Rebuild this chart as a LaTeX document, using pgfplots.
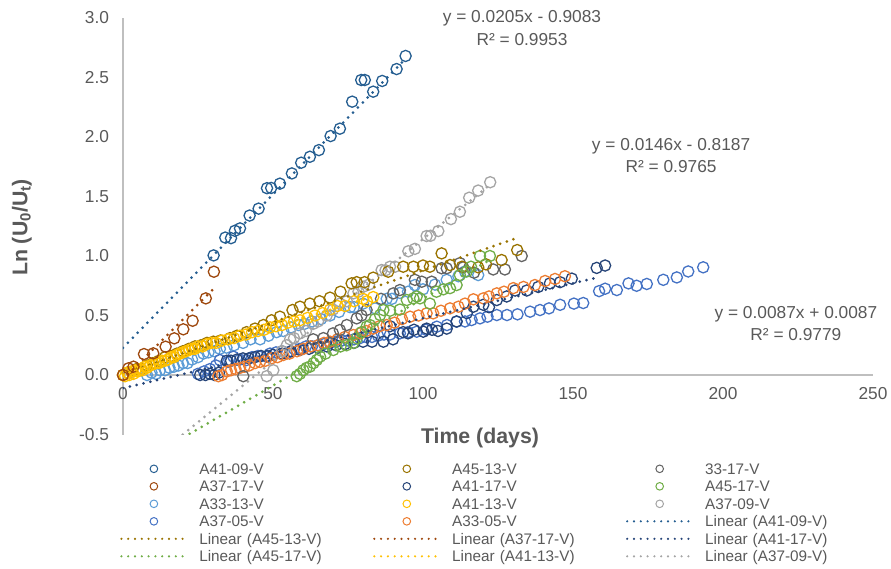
\documentclass[border=0pt]{standalone}
\usepackage{fontspec}
\setmainfont{Liberation Sans}
\usepackage{pgfplots}
\pgfplotsset{compat=1.18}
\definecolor{cA4109}{HTML}{255E91}
\definecolor{cA3717}{HTML}{9E480E}
\definecolor{cA3313}{HTML}{5B9BD5}
\definecolor{cA3705}{HTML}{4472C4}
\definecolor{cA4513}{HTML}{997300}
\definecolor{cA4117}{HTML}{264478}
\definecolor{cA4113}{HTML}{FFC000}
\definecolor{cA3305}{HTML}{ED7D31}
\definecolor{c3317}{HTML}{636363}
\definecolor{cA4517}{HTML}{70AD47}
\definecolor{cA3709}{HTML}{A5A5A5}
\definecolor{txtgray}{HTML}{595959}
\definecolor{axisgray}{HTML}{BFBFBF}
\pgfplotsset{
  trend/.style={line width=3pt, line cap=round, dash pattern=on 0pt off 7pt, forget plot},
  ser/.style={only marks, mark=o, mark size=5.6pt, line width=1.3pt, forget plot, mark options={solid, line width=1.3pt}},
}
\newcommand{\mkleg}[1]{\addlegendimage{legend image code/.code={\path (0pt,-4pt) (65pt,4pt); \draw[#1, line width=1pt] (32.5pt,0pt) circle[radius=3.8pt];}}}
\newcommand{\lnleg}[1]{\addlegendimage{legend image code/.code={\path (0pt,-4pt) (65pt,4pt); \draw[#1, line width=2.4pt, line cap=round, dash pattern=on 0pt off 6.8pt] (0pt,0pt) -- (65pt,0pt);}}}
\begin{document}
\begin{tikzpicture}
\begin{axis}[
  x=3pt, y=119pt,
  xmin=0, xmax=250, ymin=-0.5, ymax=3,
  enlargelimits=false,
  axis lines=middle,
  axis line style={-, draw=axisgray, line width=1.3pt},
  hide obscured x ticks=false, hide obscured y ticks=false,
  xtick={0,50,100,150,200,250},
  xticklabels={0,50,100,150,200,250},
  ytick={-0.5,0,0.5,1,1.5,2,2.5,3},
  yticklabels={-0.5,0.0,0.5,1.0,1.5,2.0,2.5,3.0},
  major tick length=0pt,
  tick label style={font=\fontsize{17.3}{20}\selectfont, text=txtgray},
  xticklabel style={yshift=-9pt},
  yticklabel style={xshift=-10.5pt},
  clip mode=individual,
  legend columns=3,
  legend cell align=left,
  legend style={
    at={(-0.004,-0.0609)}, anchor=north west,
    draw=none, fill=none,
    inner xsep=0pt, inner ysep=0pt,
    font=\fontsize{15.3}{17.5}\selectfont,
    nodes={inner sep=0pt, text height=14.25pt, text depth=3.25pt, text width=173.8pt, align=left, text=txtgray},
    row sep=0pt,
    /tikz/every odd column/.append style={column sep=11.7pt},
    /tikz/every even column/.append style={column sep=0pt},
  },
]
% ---- data series ----
\addplot[ser, color=cA3313] coordinates {
(8,0.0) (9.5,0.02) (11,0.01) (12.3,0.04) (14,0.04) (15.5,0.06) (17,0.07) (18.5,0.08) (20,0.1) (21.5,0.1) (23,0.13) (25,0.15) (26.8,0.18) (28.5,0.19) (30.5,0.2) (32.3,0.22) (34.5,0.23) (37,0.25) (40,0.27) (42.5,0.3) (45.7,0.3) (48.5,0.33) (51.2,0.36) (53.4,0.37) (56,0.4) (58.5,0.42) (60.5,0.43) (63,0.45) (66,0.47) (69,0.5) (72,0.53) (75.7,0.57) (77,0.57) (80,0.6) (84,0.56) (87.9,0.64) (89.6,0.64) (92.3,0.69) (95,0.7) (97.3,0.756) (100,0.72) (104,0.76) (107.9,0.8) (111.8,0.83) (114,0.87) (118.4,0.84)
};
\addplot[ser, color=cA3705] coordinates {
(25,0.01) (27,0.03) (29,0.05) (31,0.08) (32.3,0.126) (35,0.11) (36.8,0.154) (39,0.13) (41.2,0.126) (43,0.15) (45,0.16) (47.9,0.154) (49,0.18) (51,0.19) (53,0.2) (54.6,0.182) (57,0.22) (59,0.22) (61,0.24) (63,0.24) (65,0.25) (67,0.26) (69,0.27) (71,0.28) (73,0.29) (75,0.29) (77,0.3) (79,0.31) (81,0.32) (83,0.32) (85,0.33) (87,0.34) (89,0.34) (92.3,0.35) (95,0.36) (97.9,0.364) (101,0.38) (104.6,0.406) (108,0.42) (111.2,0.448) (114,0.45) (116.2,0.462) (119,0.476) (121.5,0.49) (124.6,0.504) (128,0.504) (131.5,0.51) (135.7,0.532) (139,0.546) (142,0.56) (145.7,0.59) (150.3,0.60) (153.4,0.605) (158.7,0.705) (160.7,0.725) (164.6,0.714) (168.5,0.77) (171.2,0.75) (174.6,0.765) (180.1,0.80) (184.6,0.82) (188.4,0.87) (193.4,0.905)
};
\addplot[ser, color=cA4117] coordinates {
(25.7,0.0) (27.5,0.0) (29,0.01) (30.5,0.0) (32,0.02) (34.6,0.12) (36,0.12) (38,0.13) (40,0.14) (42,0.14) (44,0.15) (46,0.16) (48,0.16) (50,0.17) (53,0.18) (56,0.2) (59,0.21) (62,0.22) (65,0.23) (68,0.24) (71,0.25) (74,0.26) (77,0.27) (80,0.28) (83,0.28) (86.8,0.28) (89,0.41) (90,0.3) (93.4,0.36) (95,0.35) (97,0.38) (100.1,0.364) (101.2,0.39) (103,0.38) (105,0.37) (107.9,0.39) (111.2,0.45) (114.6,0.52) (116.8,0.574) (120.1,0.59) (122,0.57) (124.6,0.63) (127.9,0.66) (130.7,0.71) (134.6,0.71) (138.4,0.74) (142.3,0.77) (145.7,0.78) (149.6,0.81) (157.9,0.90) (160.7,0.92)
};
\addplot[ser, color=cA3305] coordinates {
(31.8,-0.01) (33,0.0) (34.6,0.03) (36,0.04) (37.5,0.05) (39,0.06) (40.5,0.07) (42,0.08) (44,0.1) (45.7,0.11) (47.5,0.12) (49.5,0.14) (51.5,0.15) (53.4,0.168) (55.5,0.18) (58,0.2) (60.1,0.22) (62.5,0.24) (65,0.25) (67,0.27) (69,0.28) (71.5,0.3) (74,0.32) (76.8,0.336) (79,0.35) (81,0.37) (83.4,0.39) (85.5,0.41) (87.9,0.42) (90.5,0.44) (93,0.47) (95.7,0.49) (98.5,0.5) (101.2,0.518) (103.4,0.518) (106,0.54) (109,0.56) (111.8,0.574) (114,0.6) (116.8,0.636) (120.1,0.644) (122,0.66) (124.6,0.686) (127,0.7) (130.1,0.73) (133.5,0.74) (137.3,0.756) (140.7,0.79) (144,0.807) (147.3,0.83)
};
\addplot[ser, color=cA3709] coordinates {
(47.9,-0.01) (50.1,0.04) (53,0.2) (54.6,0.25) (55.7,0.3) (57,0.31) (59,0.35) (61,0.37) (63.4,0.43) (65,0.45) (67.9,0.5) (70,0.55) (72.3,0.6) (74.6,0.62) (76.8,0.686) (78.5,0.7) (80.1,0.742) (82,0.76) (86.2,0.882) (87.5,0.88) (89,0.91) (90.7,0.91) (95.1,1.04) (97.3,1.06) (101.2,1.168) (102.5,1.17) (105.1,1.21) (109.3,1.31) (112.3,1.372) (115.4,1.49) (118.4,1.55) (122.4,1.62)
};
\addplot[ser, color=c3317] coordinates {
(40.1,-0.01) (63.4,0.30) (66.8,0.31) (70,0.35) (72.3,0.378) (74.6,0.42) (77.9,0.476) (79.5,0.5) (81.2,0.546) (86,0.64) (90.1,0.686) (92.3,0.714) (97.3,0.80) (99.6,0.784) (102.9,0.784) (106.2,0.897) (107.9,0.897) (112.3,0.94) (113.4,0.905) (117,0.86) (123.4,0.887) (127.3,0.887) (132.9,1.0)
};
\addplot[ser, color=cA4513] coordinates {
(0,0) (1.5,0.02) (3,0.03) (4.5,0.05) (6,0.05) (8,0.08) (10,0.1) (12,0.12) (14,0.15) (16,0.16) (18,0.18) (20,0.2) (22,0.22) (24,0.24) (26,0.25) (28,0.27) (30.1,0.28) (32.5,0.29) (35.7,0.31) (38,0.33) (41.2,0.36) (44,0.39) (46.8,0.42) (49.5,0.46) (52.3,0.49) (56.5,0.546) (59,0.574) (62.3,0.60) (65.5,0.62) (69,0.65) (72.5,0.70) (76.2,0.77) (77.9,0.78) (80.5,0.78) (83.4,0.818) (88.4,0.868) (93.4,0.91) (96.8,0.91) (100,0.92) (102.3,0.91) (106.2,1.022) (109,0.924) (113,0.91) (118.4,0.905) (121,0.93) (126.2,0.966) (131.4,1.05)
};
\addplot[ser, color=cA4113] coordinates {
(0,0) (0.7,-0.01) (1.4,0.02) (2.1,0.0) (2.8,0.03) (3.5,0.01) (4.2,0.04) (5,0.03) (5.7,0.05) (6.5,0.04) (7.3,0.07) (8,0.06) (9,0.08) (10,0.09) (11,0.1) (12,0.1) (13,0.12) (14,0.12) (15,0.13) (16,0.15) (17,0.15) (18,0.17) (19,0.18) (20,0.19) (21,0.2) (22,0.21) (23,0.22) (24,0.22) (25,0.24) (26.5,0.24) (28,0.26) (29.5,0.27) (31,0.27) (33,0.29) (35,0.3) (37,0.31) (39,0.33) (41,0.34) (43,0.36) (45,0.37) (47,0.38) (49,0.4) (51,0.41) (53,0.42) (55,0.44) (57,0.45) (59,0.46) (61.5,0.48) (64,0.5) (66.5,0.52) (69,0.55) (71.5,0.58) (74,0.58) (77,0.62) (80,0.64) (81.3,0.62) (83.4,0.655)
};
\addplot[ser, color=cA4517] coordinates {
(57.9,-0.01) (59,0.01) (60.1,0.04) (61.2,0.06) (62.3,0.07) (63.5,0.1) (64.6,0.126) (65.7,0.154) (67.5,0.18) (70.1,0.21) (72.5,0.24) (74.5,0.25) (76.8,0.27) (77.9,0.308) (79.5,0.36) (81.2,0.406) (82.3,0.42) (84,0.47) (85.7,0.504) (86.8,0.546) (89,0.54) (92.3,0.55) (94.6,0.63) (96.8,0.644) (97.9,0.66) (99,0.644) (102.3,0.60) (104.5,0.7) (106.8,0.72) (109,0.73) (111.2,0.756) (112.3,0.84) (114.6,0.87) (116,0.91) (119,1.0) (122.3,1.0)
};
\addplot[ser, color=cA3717] coordinates {
(0,0.0) (1.8,0.056) (3.5,0.07) (7.0,0.176) (10.1,0.182) (14.2,0.238) (17.1,0.308) (20.1,0.384) (23.2,0.456) (27.6,0.644) (30.3,0.868)
};
\addplot[ser, color=cA4109] coordinates {
(30.2,1.005) (34.1,1.155) (36.0,1.150) (37.3,1.212) (39.0,1.232) (42.2,1.340) (45.2,1.398) (48.0,1.570) (49.4,1.572) (52.3,1.608) (56.3,1.694) (59.4,1.784) (62.3,1.834) (65.3,1.890) (69.2,2.008) (72.3,2.070) (76.4,2.297) (79.4,2.479) (80.6,2.479) (83.4,2.381) (86.4,2.471) (91.2,2.571) (94.2,2.681)
};
% ---- trendlines ----
\addplot[trend, color=cA4109] coordinates {(0,0.229) (94.3,2.66)};
\addplot[trend, color=cA4513] coordinates {(0,0.0087) (131.4,1.152)};
\addplot[trend, color=cA3717] coordinates {(0,-0.037) (30.3,0.727)};
\addplot[trend, color=cA4117] coordinates {(0,-0.11) (158.4,0.82)};
\addplot[trend, color=cA4517] coordinates {(0,-0.8187) (122.3,0.967)};
\addplot[trend, color=cA4113] coordinates {(0,0.005) (83.4,0.66)};
\addplot[trend, color=cA3709] coordinates {(0,-0.9083) (122.4,1.601)};
% ---- legend ----
\mkleg{cA4109}\mkleg{cA4513}\mkleg{c3317}
\mkleg{cA3717}\mkleg{cA4117}\mkleg{cA4517}
\mkleg{cA3313}\mkleg{cA4113}\mkleg{cA3709}
\mkleg{cA3705}\mkleg{cA3305}\lnleg{cA4109}
\lnleg{cA4513}\lnleg{cA3717}\lnleg{cA4117}
\lnleg{cA4517}\lnleg{cA4113}\lnleg{cA3709}
\legend{A41-09-V,A45-13-V,33-17-V,A37-17-V,A41-17-V,A45-17-V,A33-13-V,A41-13-V,A37-09-V,A37-05-V,A33-05-V,Linear (A41-09-V),Linear (A45-13-V),Linear (A37-17-V),Linear (A41-17-V),Linear (A45-17-V),Linear (A41-13-V),Linear (A37-09-V)}
% ---- texts ----
\node[align=center, font=\fontsize{17.3}{22.5}\selectfont, text=txtgray] at (axis cs:133,2.916) {y = 0.0205x - 0.9083\\R² = 0.9953};
\node[align=center, font=\fontsize{17.3}{22.5}\selectfont, text=txtgray] at (axis cs:182.7,1.845) {y = 0.0146x - 0.8187\\R² = 0.9765};
\node[align=center, font=\fontsize{17.3}{22.5}\selectfont, text=txtgray] at (axis cs:224.3,0.433) {y = 0.0087x + 0.0087\\R² = 0.9779};
\node[rotate=90, font=\bfseries\fontsize{21.3}{24}\selectfont, text=txtgray] at (axis cs:-33.7,1.24) {Ln (U\textsubscript{0}/U\textsubscript{t})};
\node[font=\bfseries\fontsize{21.3}{24}\selectfont, text=txtgray] at (axis cs:119,-0.529) {Time (days)};
\path (axis cs:-41,-1.6218) rectangle (axis cs:256,3.1513);
\end{axis}
\end{tikzpicture}
\end{document}
